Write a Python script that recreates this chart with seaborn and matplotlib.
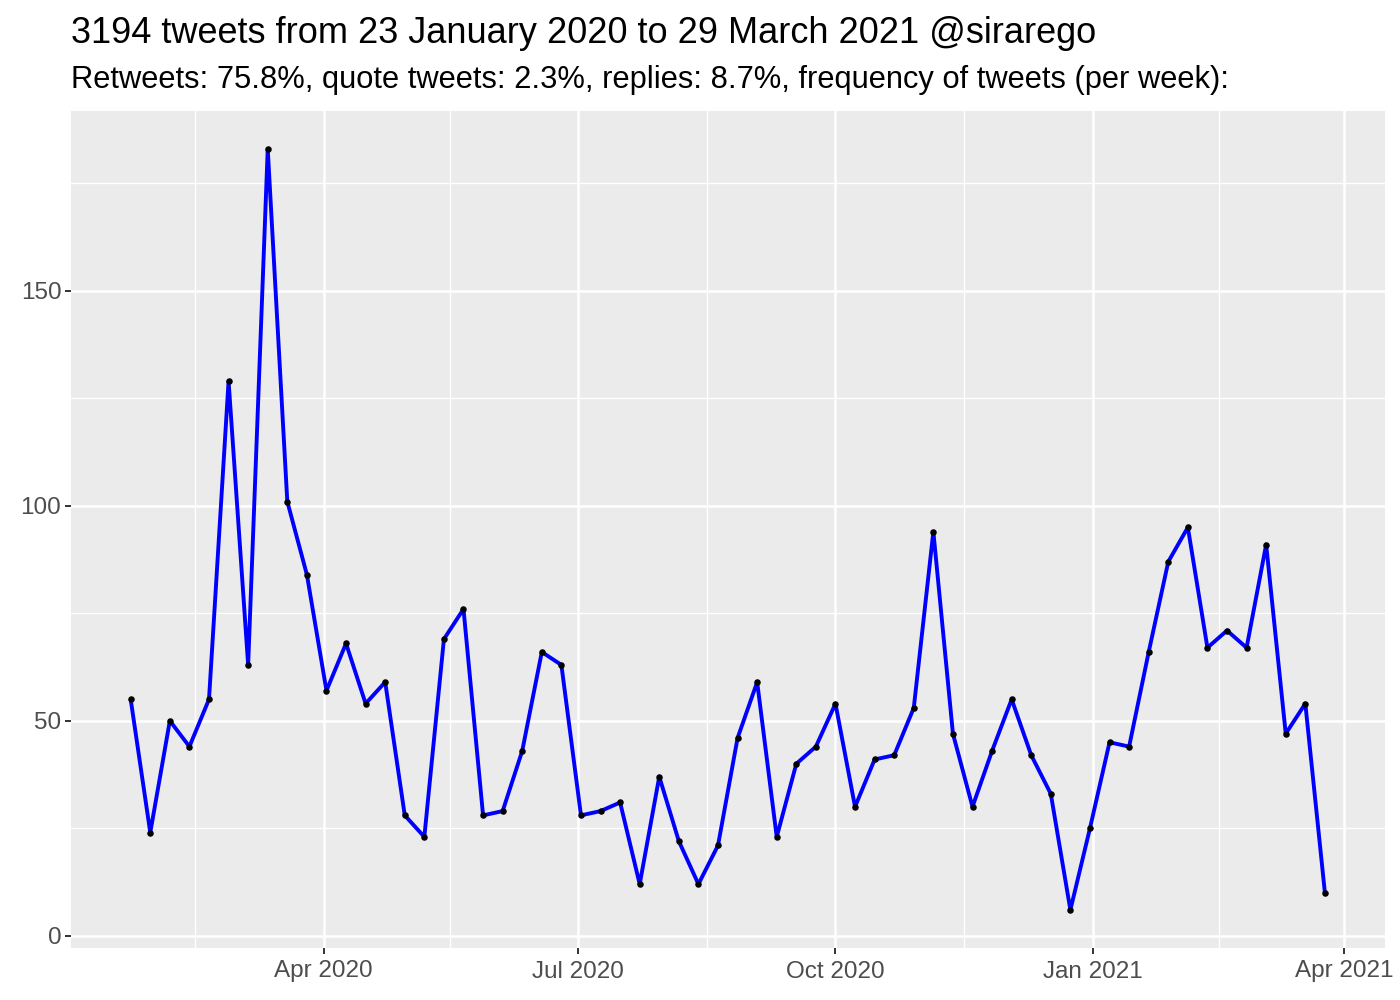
import pandas as pd
import seaborn as sns
import matplotlib.pyplot as plt
import matplotlib.dates as mdates

# weekly tweet counts, starting 23 January 2020
start_date = '2020-01-23'
weekly_counts = [55, 24, 50, 44, 55, 129, 63, 183, 101, 84,
                 57, 68, 54, 59, 28, 23, 69, 76, 28, 29,
                 43, 66, 63, 28, 29, 31, 12, 37, 22, 12,
                 21, 46, 59, 23, 40, 44, 54, 30, 41, 42,
                 53, 94, 47, 30, 43, 55, 42, 33, 6, 25,
                 45, 44, 66, 87, 95, 67, 71, 67, 91, 47,
                 54, 10]
x_ticks = ['2020-04-01', '2020-07-01', '2020-10-01', '2021-01-01', '2021-04-01']
x_minor = ['2020-02-15', '2020-05-16', '2020-08-16', '2020-11-16', '2021-02-15']
y_ticks = [0, 50, 100, 150]
y_minor = [25, 75, 125, 175]

title = '3194 tweets from 23 January 2020 to 29 March 2021 @sirarego'
subtitle = 'Retweets: 75.8%, quote tweets: 2.3%, replies: 8.7%, frequency of tweets (per week):'

df = pd.DataFrame({
    'week': pd.date_range(start_date, periods=len(weekly_counts), freq='7D'),
    'n': weekly_counts,
})

sns.set_theme(style='darkgrid', rc={
    'axes.facecolor': '#EBEBEB',
    'grid.color': 'white',
    'axes.edgecolor': 'none',
})
plt.rcParams['font.family'] = ['Liberation Sans', 'DejaVu Sans']

fig, ax = plt.subplots(figsize=(14, 10), dpi=100)
fig.subplots_adjust(left=0.0507, right=0.989, top=0.889, bottom=0.052)

sns.lineplot(data=df, x='week', y='n', color='blue', linewidth=2.8, ax=ax, zorder=3)
sns.scatterplot(data=df, x='week', y='n', color='black', s=22, linewidth=0, ax=ax, zorder=4)

# ggplot-like 5% expansion
d0, d1 = mdates.date2num(df['week'].min()), mdates.date2num(df['week'].max())
pad = (d1 - d0) * 0.05
ax.set_xlim(d0 - pad, d1 + pad)
lo, hi = min(weekly_counts), max(weekly_counts)
ypad = (hi - lo) * 0.05
ax.set_ylim(lo - ypad, hi + ypad)

ax.set_xticks(mdates.date2num(pd.to_datetime(x_ticks)))
ax.set_xticks(mdates.date2num(pd.to_datetime(x_minor)), minor=True)
ax.xaxis.set_major_formatter(mdates.DateFormatter('%b %Y'))
ax.set_yticks(y_ticks)
ax.set_yticks(y_minor, minor=True)

ax.grid(which='major', color='white', linewidth=1.8)
ax.grid(which='minor', color='white', linewidth=1.0)
ax.tick_params(which='major', length=4, width=1.4, color='#333333',
               labelsize=17.5, labelcolor='#4D4D4D', bottom=True, left=True)
ax.tick_params(axis='x', which='major', pad=5)
ax.tick_params(axis='y', which='major', pad=3)
ax.tick_params(which='minor', length=0)
ax.set_xlabel('')
ax.set_ylabel('')

fig.text(0.0507, 0.957, title, fontsize=26, ha='left', va='baseline', color='black')
fig.text(0.0507, 0.912, subtitle, fontsize=22.2, ha='left', va='baseline', color='black')

plt.savefig('out.png', dpi=100)
plt.close()
